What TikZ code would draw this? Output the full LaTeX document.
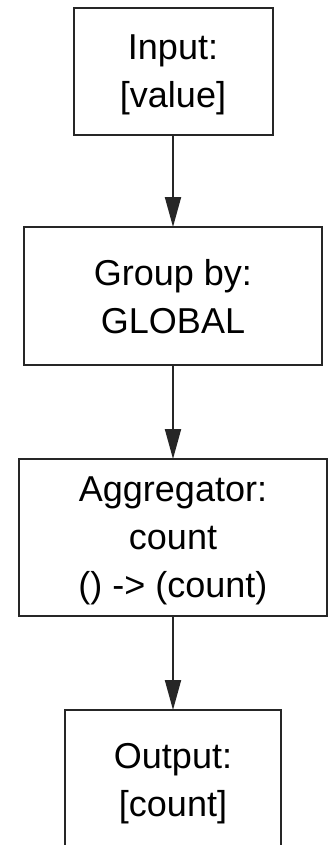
\documentclass[tikz,border=0pt]{standalone}
\usepackage{fontspec}
\setmainfont{Liberation Sans}
\usetikzlibrary{arrows.meta}

\tikzset{
  stage/.style={draw=black!85, line width=1.5pt, outer sep=0pt, inner sep=0pt,
    align=center, text depth=0pt, font=\fontsize{27pt}{36pt}\selectfont},
  flow/.style={draw=black!85, line width=1.5pt,
    -{Triangle[length=22.5pt,width=12pt]}}
}

\begin{document}
\begin{tikzpicture}[x=0.75pt,y=-0.75pt]
  \useasboundingbox (0,0) rectangle (333,845);
  \clip (0,0) rectangle (333,845);
  \fill[white] (0,0) rectangle (333,845);

  % pipeline stages, top to bottom
  \node[stage, minimum width=149.25pt, minimum height=95.6pt] (input) at (173,71.5)
    {Input:\\{}[value]};
  \node[stage, minimum width=223.5pt, minimum height=103.5pt] (group) at (173,296)
    {Group by:\\GLOBAL};
  \node[stage, minimum width=231pt, minimum height=117.75pt] (agg) at (173,537.5)
    {Aggregator:\\count\\() -> (count)};
  \node[stage, minimum width=162pt, minimum height=105pt] (output) at (173,780)
    {Output:\\{}[count]};

  % connectors between stages
  \draw[flow] (input.south) -- (group.north);
  \draw[flow] (group.south) -- (agg.north);
  \draw[flow] (agg.south) -- (output.north);
\end{tikzpicture}
\end{document}
